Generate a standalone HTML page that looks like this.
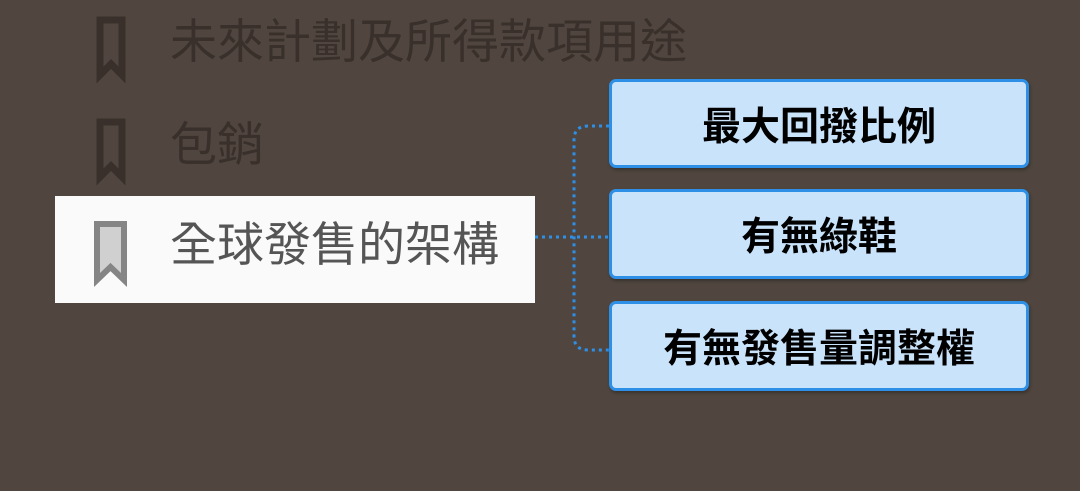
<!DOCTYPE html>
<html><head><meta charset="utf-8"><style>
body{margin:0;width:1080px;height:491px;background:#50463f;position:relative;overflow:hidden;font-family:"Liberation Sans","Noto Sans CJK TC",sans-serif}
.t{position:absolute;left:170px;font-size:47px;line-height:60px;white-space:nowrap}
.box{position:absolute;left:609px;background:#c9e3fb;border:3px solid #2e8fe6;border-radius:7px;display:flex;align-items:center;justify-content:center;font-weight:bold;font-size:39px;color:#000;box-sizing:border-box;width:420px;box-shadow:1px 2px 3px rgba(0,0,0,.3)}
</style></head><body>
<svg width="1080" height="491" style="position:absolute;left:0;top:0">
<path d="M100 20h22v55l-11-11-11 11z" fill="none" stroke="#3a302b" stroke-width="7"/>
<path d="M100 122h22v55l-11-11-11 11z" fill="none" stroke="#3a302b" stroke-width="7"/>
<rect x="55" y="196" width="480" height="107" fill="#fafafa"/>
<path d="M97 224h27v56l-13.5-13-13.5 13z" fill="#d0d0d0" stroke="#858585" stroke-width="6"/>
<path d="M535 237H609M609 126H588Q574 126 574 140V336Q574 350 588 350H609" fill="none" stroke="#2e8fe6" stroke-width="3" stroke-dasharray="3 4"/>
</svg>
<div class="t" style="top:12px;color:#3a302b">未來計劃及所得款項用途</div>
<div class="t" style="top:115px;color:#3a302b">包銷</div>
<div class="t" style="top:215px;color:#555">全球發售的架構</div>
<div class="box" style="top:79px;height:89px">最大回撥比例</div>
<div class="box" style="top:189px;height:90px">有無綠鞋</div>
<div class="box" style="top:301px;height:90px">有無發售量調整權</div>
</body></html>
